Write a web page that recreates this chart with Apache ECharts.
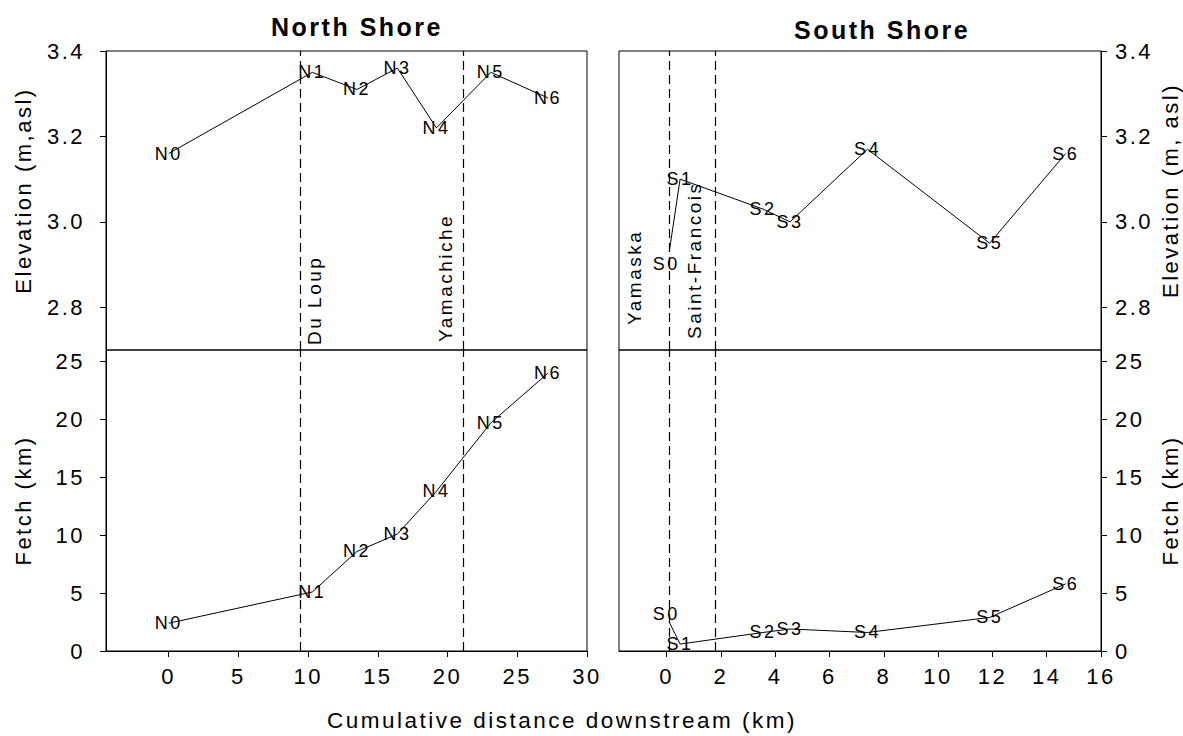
<!DOCTYPE html>
<html>
<head>
<meta charset="utf-8">
<script src="https://cdn.jsdelivr.net/npm/echarts@6/dist/echarts.min.js"></script>
<style>
  html, body { margin: 0; padding: 0; background: #fff; }
  #chart { width: 1183px; height: 736px; }
  #chart svg text { letter-spacing: 2.5px; }
</style>
</head>
<body>
<div id="chart"></div>
<script>
// Stations along each shore: cumulative distance (km), bank elevation (m asl), fetch (km)
const northNames = ['N0', 'N1', 'N2', 'N3', 'N4', 'N5', 'N6'];
const northDist  = [0, 10.3, 13.5, 16.4, 19.2, 23.1, 27.2];
const northElev  = [3.16, 3.35, 3.31, 3.36, 3.22, 3.35, 3.29];
const northFetch = [2.4, 5.1, 8.6, 10.1, 13.8, 19.7, 24.0];

const southNames = ['S0', 'S1', 'S2', 'S3', 'S4', 'S5', 'S6'];
const southDist  = [0.1, 0.5, 3.55, 4.55, 7.4, 11.9, 14.7];
const southElev  = [2.93, 3.10, 3.03, 3.00, 3.17, 2.95, 3.16];
const southFetch = [2.5, 0.6, 1.6, 1.9, 1.6, 2.9, 5.8];

// Tributary mouths
const northRivers   = ['Du Loup', 'Yamachiche'];
const northRiverKm  = [9.4, 21.1];
const southRivers   = ['Yamaska', 'Saint-Francois'];
const southRiverKm  = [0.1, 1.8];

// Tick values
const elevTicks      = [2.8, 3.0, 3.2, 3.4];
const fetchTicks     = [0, 5, 10, 15, 20, 25];
const northDistTicks = [0, 5, 10, 15, 20, 25, 30];
const southDistTicks = [0, 2, 4, 6, 8, 10, 12, 14, 16];

const FONT = '"Liberation Sans", Arial, Helvetica, sans-serif';
const INK = '#000';

const chart = echarts.init(document.getElementById('chart'), null, { renderer: 'svg' });

const gridBase = { show: true, borderColor: INK, borderWidth: 1, backgroundColor: 'transparent' };

function xAxisCfg(gridIndex, min, max, ticks, visible) {
  return {
    type: 'value', gridIndex, min, max,
    show: visible,
    axisLine: { show: true, onZero: false, lineStyle: { color: INK, width: 1 } },
    axisTick: { show: true, customValues: ticks, length: 6, inside: false, lineStyle: { color: INK } },
    axisLabel: { show: true, customValues: ticks, margin: 14, fontSize: 22, color: INK, fontFamily: FONT },
    splitLine: { show: false }
  };
}

function yAxisCfg(gridIndex, min, max, ticks, position, name, nameGap, digits, namePadding) {
  return {
    type: 'value', gridIndex, min, max, position,
    name, nameLocation: 'middle', nameGap, nameRotate: 90,
    nameTextStyle: { fontSize: 22, color: INK, fontFamily: FONT, padding: namePadding || 0 },
    axisLine: { show: true, onZero: false, lineStyle: { color: INK, width: 1 } },
    axisTick: { show: true, customValues: ticks, length: 6, inside: false, lineStyle: { color: INK } },
    axisLabel: {
      show: true, customValues: ticks, margin: position === 'left' ? 21 : 14,
      fontSize: 22, color: INK, fontFamily: FONT,
      formatter: v => v.toFixed(digits)
    },
    splitLine: { show: false }
  };
}

function stationData(names, xs, ys, offsets) {
  return names.map((n, i) => {
    const item = { name: n, value: [xs[i], ys[i]] };
    if (offsets && offsets[n]) item.label = { offset: offsets[n] };
    return item;
  });
}

function riverLines(kms, names, labelCfg) {
  return kms.map((x, i) => {
    const d = { xAxis: x };
    if (names) {
      d.label = Object.assign({ show: true, formatter: names[i] }, labelCfg[i]);
    } else {
      d.label = { show: false };
    }
    return d;
  });
}

const dashStyle = { color: INK, width: 1.2, type: [9, 5] };

function profileSeries(xi, yi, data, rivers) {
  return {
    type: 'line', xAxisIndex: xi, yAxisIndex: yi, data,
    symbol: 'circle', symbolSize: 1,
    itemStyle: { color: 'rgba(0,0,0,0)' },
    lineStyle: { color: INK, width: 1 },
    label: {
      show: true, position: 'inside', formatter: '{b}',
      fontSize: 18, color: INK, fontFamily: FONT
    },
    emphasis: { disabled: true },
    silent: true,
    markLine: {
      silent: true, symbol: ['none', 'none'],
      lineStyle: dashStyle,
      label: { show: false },
      data: rivers
    }
  };
}

const riverLabel = (pos, dist) => ({ position: pos, distance: dist, fontSize: 19, color: INK, fontFamily: FONT });

const option = {
  animation: false,
  textStyle: { fontFamily: FONT },
  grid: [
    Object.assign({ left: 106, top: 51, width: 481, height: 299 }, gridBase),
    Object.assign({ left: 106, top: 350, width: 481, height: 301 }, gridBase),
    Object.assign({ left: 619, top: 51, width: 482, height: 299 }, gridBase),
    Object.assign({ left: 619, top: 350, width: 482, height: 301 }, gridBase)
  ],
  xAxis: [
    xAxisCfg(0, -4.5, 30, northDistTicks, false),
    xAxisCfg(1, -4.5, 30, northDistTicks, true),
    xAxisCfg(2, -1.75, 16, southDistTicks, false),
    xAxisCfg(3, -1.75, 16, southDistTicks, true)
  ],
  yAxis: [
    yAxisCfg(0, 2.7, 3.4, elevTicks, 'left', 'Elevation (m,asl)', 72, 1, [0, 0, 0, 20]),
    yAxisCfg(1, 0, 26, fetchTicks, 'left', 'Fetch (km)', 72, 0),
    yAxisCfg(2, 2.7, 3.4, elevTicks, 'right', 'Elevation (m, asl)', 58, 1, [0, 0, 0, 20]),
    yAxisCfg(3, 0, 26, fetchTicks, 'right', 'Fetch (km)', 58, 0)
  ],
  series: [
    profileSeries(0, 0, stationData(northNames, northDist, northElev),
      riverLines(northRiverKm, northRivers, [riverLabel('insideStartBottom', 5), riverLabel('insideStartTop', 8)])),
    profileSeries(1, 1, stationData(northNames, northDist, northFetch),
      riverLines(northRiverKm, null)),
    profileSeries(2, 2, stationData(southNames, southDist, southElev, { S0: [-3, 12] }),
      riverLines(southRiverKm, southRivers, [riverLabel('insideStartTop', 25), riverLabel('insideStartTop', 11)])),
    profileSeries(3, 3, stationData(southNames, southDist, southFetch, { S0: [-3, -8] }),
      riverLines(southRiverKm, null))
  ],
  graphic: [
    { type: 'text', x: 357, y: 27, silent: true,
      style: { text: 'North Shore', fill: INK, font: 'bold 25px ' + FONT, textAlign: 'center', verticalAlign: 'middle' } },
    { type: 'text', x: 882, y: 30, silent: true,
      style: { text: 'South Shore', fill: INK, font: 'bold 25px ' + FONT, textAlign: 'center', verticalAlign: 'middle' } },
    { type: 'text', x: 562, y: 720, silent: true,
      style: { text: 'Cumulative distance downstream (km)', fill: INK, font: '22.5px ' + FONT, textAlign: 'center', verticalAlign: 'middle' } }
  ]
};

chart.setOption(option);
</script>
</body>
</html>
